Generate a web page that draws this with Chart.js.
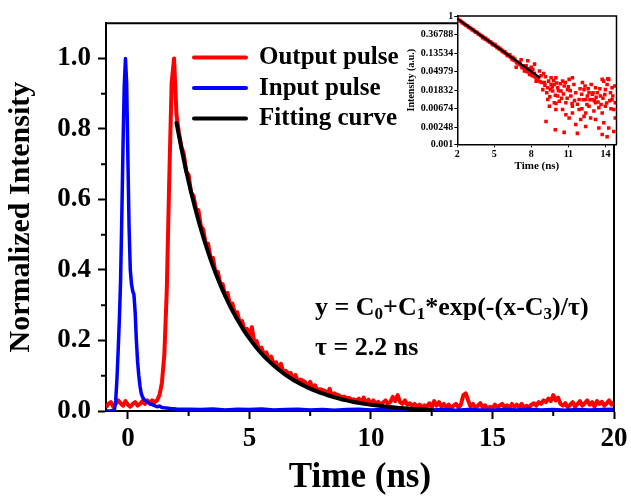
<!DOCTYPE html>
<html><head><meta charset="utf-8">
<script src="https://cdn.jsdelivr.net/npm/chart.js@4.4.1/dist/chart.umd.min.js"></script>
<style>
html,body{margin:0;padding:0;background:#fff;}
#wrap{position:relative;width:631px;height:497px;overflow:hidden;}
#main{position:absolute;left:0;top:0;}
#inset{position:absolute;left:400px;top:6px;}
</style></head><body>
<div id="wrap"><canvas id="main" width="631" height="497"></canvas><canvas id="inset" width="226" height="172"></canvas></div>
<script>
// ---------------- DATA ----------------
const xTicks = [0, 5, 10, 15, 20];
const xMinorTicks = [2.5, 7.5, 12.5, 17.5];
const yTicks = [0, 0.2, 0.4, 0.6, 0.8, 1.0];
const yMinorTicks = [0.1, 0.3, 0.5, 0.7, 0.9];

const outputTime = [
-0.9,-0.8,-0.7,-0.6,-0.5,-0.4,-0.3,-0.2,-0.1,0.0,
0.1,0.2,0.3,0.4,0.5,0.6,0.7,0.8,0.9,1.0,
1.1,1.2,1.3,1.4,1.5,1.6,1.7,1.8,1.9,2.0,
2.1,2.2,2.3,2.4,2.5,2.6,2.7,2.8,2.9,3.0,
3.1,3.2,3.3,3.4,3.5,3.6,3.7,3.8,3.9,4.0,
4.1,4.2,4.3,4.4,4.5,4.6,4.7,4.8,4.9,5.0,
5.1,5.2,5.3,5.4,5.5,5.6,5.7,5.8,5.9,6.0,
6.1,6.2,6.3,6.4,6.5,6.6,6.7,6.8,6.9,7.0,
7.1,7.2,7.3,7.4,7.5,7.6,7.7,7.8,7.9,8.0,
8.1,8.2,8.3,8.4,8.5,8.6,8.7,8.8,8.9,9.0,
9.1,9.2,9.3,9.4,9.5,9.6,9.7,9.8,9.9,10.0,
10.1,10.2,10.3,10.4,10.5,10.6,10.7,10.8,10.9,11.0,
11.1,11.2,11.3,11.4,11.5,11.6,11.7,11.8,11.9,12.0,
12.1,12.2,12.3,12.4,12.5,12.6,12.7,12.8,12.9,13.0,
13.1,13.2,13.3,13.4,13.5,13.6,13.7,13.8,13.9,14.0,
14.1,14.2,14.3,14.4,14.5,14.6,14.7,14.8,14.9,15.0,
15.1,15.2,15.3,15.4,15.5,15.6,15.7,15.8,15.9,16.0,
16.1,16.2,16.3,16.4,16.5,16.6,16.7,16.8,16.9,17.0,
17.1,17.2,17.3,17.4,17.5,17.6,17.7,17.8,17.9,18.0,
18.1,18.2,18.3,18.4,18.5,18.6,18.7,18.8,18.9,19.0,
19.1,19.2,19.3,19.4,19.5,19.6,19.7,19.8,19.9,20.0];
const outputPulse = [
0.010,0.020,0.025,0.012,0.020,0.030,0.022,0.015,0.028,0.018,
0.012,0.020,0.025,0.015,0.020,0.028,0.020,0.030,0.022,0.030,
0.025,0.030,0.045,0.080,0.160,0.340,0.650,0.930,1.000,0.840,
0.790,0.750,0.730,0.680,0.670,0.620,0.610,0.575,0.570,0.525,
0.515,0.475,0.475,0.435,0.435,0.395,0.395,0.362,0.360,0.328,
0.335,0.302,0.305,0.278,0.280,0.252,0.255,0.228,0.233,0.208,
0.238,0.195,0.198,0.174,0.180,0.158,0.166,0.144,0.154,0.132,
0.138,0.118,0.134,0.108,0.114,0.106,0.108,0.088,0.102,0.081,
0.089,0.086,0.081,0.067,0.083,0.062,0.073,0.057,0.062,0.060,
0.057,0.046,0.063,0.042,0.050,0.046,0.044,0.038,0.041,0.036,
0.037,0.032,0.033,0.029,0.035,0.024,0.038,0.021,0.032,0.020,
0.030,0.020,0.026,0.018,0.024,0.030,0.020,0.026,0.040,0.028,
0.045,0.025,0.020,0.030,0.018,0.022,0.015,0.020,0.012,0.018,
0.010,0.016,0.012,0.022,0.010,0.028,0.015,0.025,0.012,0.020,
0.010,0.018,0.008,0.015,0.020,0.010,0.018,0.045,0.050,0.030,
0.012,0.020,0.008,0.015,0.022,0.010,0.016,0.006,0.012,0.008,
0.018,0.010,0.015,0.020,0.010,0.016,0.008,0.020,0.012,0.018,
0.010,0.020,0.008,0.015,0.010,0.018,0.022,0.015,0.025,0.020,
0.030,0.025,0.035,0.028,0.045,0.030,0.038,0.020,0.015,0.022,
0.010,0.018,0.025,0.012,0.020,0.028,0.015,0.022,0.030,0.018,
0.025,0.012,0.028,0.020,0.026,0.015,0.022,0.030,0.018,0.025];

const inputTime = [
-0.9,-0.8,-0.7,-0.6,-0.55,-0.5,-0.45,-0.4,-0.35,-0.3,-0.25,-0.2,-0.15,-0.1,-0.05,0.0,
0.05,0.1,0.15,0.2,0.25,0.3,0.35,0.4,0.45,0.5,0.55,0.6,0.7,0.8,0.9,1.0,
1.1,1.2,1.3,1.4,1.5,1.75,2.0,
2.5,3.0,3.5,4.0,4.5,5.0,5.5,6.0,6.5,7.0,7.5,8.0,8.5,9.0,9.5,10.0,10.5,11.0,
11.5,12.0,12.5,13.0,13.5,14.0,14.5,15.0,15.5,16.0,16.5,17.0,17.5,18.0,18.5,19.0,19.5,20.0];
const inputPulse = [
0.0,0.0,0.0,0.002,0.005,0.03,0.09,0.17,0.26,0.37,0.55,0.75,0.92,1.0,0.93,0.72,
0.52,0.40,0.36,0.34,0.33,0.28,0.20,0.14,0.10,0.07,0.05,0.04,0.03,0.025,0.02,0.018,
0.015,0.012,0.014,0.010,0.009,0.007,0.006,
0.005,0.004,0.006,0.003,0.005,0.004,0.006,0.003,0.004,0.005,0.003,0.004,0.002,0.004,0.005,0.003,0.004,0.002,
0.003,0.005,0.003,0.004,0.002,0.004,0.003,0.002,0.004,0.003,0.005,0.003,0.004,0.002,0.004,0.003,0.004,0.005];

const fitTime = [2.0,2.25,2.5,2.75,3.0,3.25,3.5,3.75,4.0,4.25,4.5,4.75,5.0,5.25,5.5,5.75,6.0,6.25,6.5,6.75,
7.0,7.25,7.5,7.75,8.0,8.25,8.5,8.75,9.0,9.25,9.5,9.75,10.0,10.25,10.5,10.75,11.0,11.25,11.5,11.75,12.0,12.25,12.5];
const fitCurve = [0.817,0.729,0.650,0.580,0.517,0.461,0.411,0.367,0.327,0.291,0.260,0.231,0.206,0.183,0.163,0.145,0.129,0.115,0.102,0.0908,
0.0806,0.0715,0.0634,0.0562,0.0497,0.0439,0.0388,0.0342,0.0301,0.0264,0.0232,0.0202,0.0176,0.0153,0.0132,0.0114,0.0097,0.0083,0.0069,0.0058,0.0047,0.0038,0.0029];

// inset (log scale) data
const insetXTicks = [2, 5, 8, 11, 14];
const insetYTicks = [0.001, 0.00248, 0.00674, 0.01832, 0.04979, 0.13534, 0.36788, 1];
const insetYTickLabels = ['0.001', '0.00248', '0.00674', '0.01832', '0.04979', '0.13534', '0.36788', '1'];
const insetTime = [
2.0,2.1,2.2,2.3,2.4,2.5,2.6,2.7,2.8,2.9,
3.0,3.1,3.2,3.3,3.4,3.5,3.6,3.7,3.8,3.9,
4.0,4.1,4.2,4.3,4.4,4.5,4.6,4.7,4.8,4.9,
5.0,5.1,5.2,5.3,5.4,5.5,5.6,5.7,5.8,5.9,
6.0,6.1,6.2,6.3,6.4,6.5,6.6,6.7,6.8,6.9,
7.0,7.1,7.2,7.3,7.4,7.5,7.6,7.7,7.8,7.9,
8.0,8.1,8.2,8.3,8.4,8.5,
4.05,4.25,4.45,4.65,4.85,5.05,5.25,5.45,5.65,5.85,6.05,6.25,6.45,6.65,6.85,7.05,7.25,7.45,7.65,7.85,8.05,8.25,8.45,
6.5,7.04,7.44,7.71,6.77,7.17,8.12,8.26,8.52,7.85,
9.19,9.94,10.66,11.73,10.8,11.33,9.86,10.13,9.33,9.6,8.93,8.39,7.99,7.58,8.12,9.99,10.53,11.06,11.33,12.14,
12.27,12.67,13.2,13.74,13.87,14.27,14.14,14.54,14.54,14.8,14.0,13.47,13.07,12.67,12.27,12.0,12.4,12.8,13.47,13.74,
14.14,14.68,14.8,13.87,14.27,13.2,13.6,12.94,12.54,11.87,11.6,11.2,10.93,10.66,10.4,10.26,10.8,11.33,11.87,9.73,
9.33,9.06,8.79,8.66,9.6,9.86,10.13,11.73,12.08,12.4,12.94,13.34,14.0,14.41,14.68,13.74,13.2,12.4,11.6,11.06,
10.53,9.99,9.46,
9.1,9.25,9.4,9.5,9.7,9.8,9.95,10.05,10.2,10.35,10.45,10.6,10.75,10.9,11.0,11.15,11.45,11.5,11.95,12.2,
12.35,12.5,12.6,12.75,12.85,13.0,13.1,13.25,13.4,13.55,13.65,13.8,13.95,14.1,14.2,14.35,14.45,14.6,14.75,8.85,
9.0,8.6,8.7,9.15,9.55,10.0,11.3,12.1];
const insetIntensity = [
0.86,0.80,0.78,0.74,0.70,0.68,0.64,0.61,0.59,0.55,
0.53,0.51,0.48,0.47,0.44,0.42,0.41,0.38,0.37,0.35,
0.34,0.32,0.30,0.30,0.28,0.27,0.25,0.245,0.23,0.22,
0.21,0.20,0.19,0.185,0.17,0.165,0.16,0.15,0.14,0.135,
0.13,0.12,0.118,0.11,0.105,0.098,0.094,0.09,0.084,0.082,
0.077,0.074,0.068,0.066,0.062,0.06,0.056,0.053,0.05,0.048,
0.046,0.043,0.04,0.038,0.036,0.034,
0.31,0.29,0.265,0.25,0.215,0.215,0.18,0.175,0.148,0.145,0.12,0.124,0.096,0.098,0.08,0.082,0.062,0.068,0.05,0.058,0.041,0.046,0.031,
0.108,0.075,0.052,0.09,0.063,0.095,0.04,0.075,0.033,0.043,
0.0034,0.0022,0.0019,0.0018,0.0049,0.0054,0.0094,0.0135,0.0112,0.025,0.019,0.030,0.063,0.069,0.057,0.036,0.030,0.033,0.036,0.028,
0.019,0.016,0.021,0.033,0.030,0.033,0.025,0.021,0.011,0.0094,0.0078,0.0072,0.006,0.0078,0.0045,0.0038,0.0054,0.0041,0.0024,0.0017,
0.0015,0.002,0.0041,0.0032,0.0024,0.0094,0.0135,0.0112,0.0135,0.0112,0.016,0.0135,0.019,0.023,0.0176,0.0102,0.0094,0.0078,0.0065,0.0176,
0.021,0.028,0.040,0.052,0.036,0.025,0.021,0.0086,0.0148,0.0112,0.0148,0.016,0.019,0.016,0.0065,0.0054,0.0038,0.0026,0.0029,0.0041,
0.0065,0.0065,0.0078,
0.024,0.016,0.03,0.013,0.022,0.031,0.014,0.027,0.018,0.026,0.012,0.015,0.028,0.012,0.022,0.018,0.025,0.0105,0.02,0.011,
0.023,0.0085,0.02,0.011,0.025,0.016,0.0105,0.0125,0.0098,0.02,0.0085,0.012,0.0145,0.0092,0.034,0.0105,0.0068,0.0135,0.023,0.028,
0.045,0.036,0.029,0.038,0.019,0.009,0.009,0.0068];
const insetFitTime = [2.0, 8.7];
const insetFitValue = [0.87, 0.036];

const seriesLabels = ['Output pulse', 'Input pulse', 'Fitting curve'];
const xTitle = 'Time (ns)';
const yTitle = 'Normalized Intensity';
const insetXTitle = 'Time (ns)';
const insetYTitle = 'Intensity (a.u.)';
const eqParts = [['y = C', false], ['0', true], ['+C', false], ['1', true], ['*exp(-(x-C', false], ['3', true], [')/\u03C4)', false]];
const tauText = '\u03C4 = 2.2 ns';

// ---------------- CHART ----------------
const SERIF = '"Liberation Serif", "Times New Roman", serif';
const pts = (xs, ys) => xs.map((x, i) => ({x: x, y: ys[i]}));

const framePlugin = {
  id: 'frame',
  afterDraw(chart) {
    const {ctx, chartArea: a} = chart;
    const lw = chart.options.frameWidth || 2;
    ctx.save();
    ctx.strokeStyle = '#000'; ctx.lineWidth = lw;
    ctx.beginPath();
    ctx.moveTo(a.left, a.top); ctx.lineTo(a.right, a.top); ctx.lineTo(a.right, a.bottom);
    ctx.stroke();
    ctx.restore();
  }
};
const minorPlugin = {
  id: 'minor',
  afterDraw(chart) {
    const {ctx, chartArea: a, scales} = chart;
    ctx.save(); ctx.strokeStyle = '#000'; ctx.lineWidth = 2;
    ctx.beginPath();
    xMinorTicks.forEach(v => { const p = scales.x.getPixelForValue(v); ctx.moveTo(p, a.bottom); ctx.lineTo(p, a.bottom + 5); });
    yMinorTicks.forEach(v => { const p = scales.y.getPixelForValue(v); ctx.moveTo(a.left - 5, p); ctx.lineTo(a.left, p); });
    ctx.stroke(); ctx.restore();
  }
};
const legendPlugin = {
  id: 'inlegend',
  afterDraw(chart) {
    const ctx = chart.ctx;
    ctx.save();
    chart.data.datasets.forEach((ds, i) => {
      const y = 57.5 + i * 30.5;
      ctx.strokeStyle = ds.borderColor; ctx.lineWidth = 4; ctx.lineCap = 'round';
      ctx.beginPath(); ctx.moveTo(194, y); ctx.lineTo(246, y); ctx.stroke();
      ctx.fillStyle = '#000'; ctx.font = 'bold 25px ' + SERIF; ctx.textBaseline = 'middle'; ctx.textAlign = 'left';
      ctx.fillText(ds.label, 259, y + 0.5);
    });
    ctx.restore();
  }
};
const eqPlugin = {
  id: 'equation',
  afterDraw(chart) {
    const ctx = chart.ctx;
    ctx.save(); ctx.fillStyle = '#000'; ctx.textBaseline = 'alphabetic'; ctx.textAlign = 'left';
    let x = 315; const base = 315;
    eqParts.forEach(([t, sub]) => {
      ctx.font = sub ? 'bold 17px ' + SERIF : 'bold 26px ' + SERIF;
      ctx.fillText(t, x, sub ? base + 4 : base);
      x += ctx.measureText(t).width;
    });
    ctx.font = 'bold 26px ' + SERIF;
    ctx.fillText(tauText, 315, 355);
    ctx.restore();
  }
};

const tickFont = {family: SERIF, size: 27, weight: 'bold'};

new Chart(document.getElementById('main'), {
  type: 'line',
  data: {
    datasets: [
      {label: seriesLabels[0], data: pts(outputTime, outputPulse), borderColor: '#ff0000', borderWidth: 4, pointRadius: 0, order: 2, borderJoinStyle: 'round'},
      {label: seriesLabels[1], data: pts(inputTime, inputPulse), borderColor: '#0000ff', borderWidth: 3.5, pointRadius: 0, order: 1, borderJoinStyle: 'round'},
      {label: seriesLabels[2], data: pts(fitTime, fitCurve), borderColor: '#000000', borderWidth: 4, pointRadius: 0, order: 0, cubicInterpolationMode: 'monotone', borderCapStyle: 'round'}
    ]
  },
  options: {
    responsive: false, animation: false, devicePixelRatio: 1,
    layout: {padding: {top: 11.4, right: 13.5, left: 0, bottom: 0}},
    plugins: {legend: {display: false}, tooltip: {enabled: false}},
    scales: {
      x: {
        type: 'linear', min: -0.9, max: 20,
        afterBuildTicks: s => { s.ticks = xTicks.map(v => ({value: v})); },
        afterFit: s => { s.height = 86; },
        ticks: {font: tickFont, color: '#000', padding: 3.5, maxRotation: 0, autoSkip: false, callback: v => String(v)},
        grid: {drawOnChartArea: false, tickLength: 8, tickWidth: 2, tickColor: '#000'},
        border: {color: '#000', width: 2},
        title: {display: true, text: xTitle, color: '#000', font: {family: SERIF, size: 35, weight: 'bold', lineHeight: 1}, padding: {top: 0, bottom: 1.3}}
      },
      y: {
        type: 'linear', min: 0, max: 1.1,
        afterBuildTicks: s => { s.ticks = yTicks.map(v => ({value: v})); },
        afterFit: s => { s.width = 106; },
        ticks: {font: tickFont, color: '#000', padding: 7, autoSkip: false, callback: v => v.toFixed(1)},
        grid: {drawOnChartArea: false, tickLength: 8, tickWidth: 2, tickColor: '#000'},
        border: {color: '#000', width: 2},
        title: {display: true, text: yTitle, color: '#000', font: {family: SERIF, size: 30, weight: 'bold', lineHeight: 1}, padding: {top: 6.6, bottom: 0}}
      }
    }
  },
  plugins: [framePlugin, minorPlugin, legendPlugin, eqPlugin]
});

const insetBg = {
  id: 'insetBg',
  beforeDraw(chart) {
    const {ctx, chartArea: a} = chart;
    ctx.save(); ctx.fillStyle = '#fff'; ctx.fillRect(a.left, a.top, a.right - a.left, a.bottom - a.top); ctx.restore();
  }
};
const insetFont = {family: SERIF, size: 10, weight: 'bold'};
new Chart(document.getElementById('inset'), {
  type: 'scatter',
  data: {
    datasets: [
      {type: 'line', label: 'fit', data: pts(insetFitTime, insetFitValue), borderColor: '#000', borderWidth: 2.2, pointRadius: 0, order: 0},
      {label: 'data', data: pts(insetTime, insetIntensity), backgroundColor: '#ff0000', borderWidth: 0, pointRadius: 2.5, pointStyle: 'rect', order: 1}
    ]
  },
  options: {
    responsive: false, animation: false, devicePixelRatio: 1, frameWidth: 1.5,
    layout: {padding: {top: 10, right: 9.5, left: 0, bottom: 0}},
    plugins: {legend: {display: false}, tooltip: {enabled: false}},
    scales: {
      x: {
        type: 'linear', min: 2, max: 14.9,
        afterBuildTicks: s => { s.ticks = insetXTicks.map(v => ({value: v})); },
        afterFit: s => { s.height = 33.7; },
        ticks: {font: insetFont, color: '#000', padding: 1, maxRotation: 0, autoSkip: false, callback: v => String(v)},
        grid: {drawOnChartArea: false, tickLength: 3, tickWidth: 1, tickColor: '#000'},
        border: {color: '#000', width: 1.5},
        title: {display: true, text: insetXTitle, color: '#000', font: {family: SERIF, size: 11, weight: 'bold', lineHeight: 1}, padding: {top: 0, bottom: 6.8}}
      },
      y: {
        type: 'logarithmic', min: 0.001, max: 1,
        afterBuildTicks: s => { s.ticks = insetYTicks.map(v => ({value: v})); },
        afterFit: s => { s.width = 57.3; },
        ticks: {font: insetFont, color: '#000', padding: 1, autoSkip: false, callback: (v, i) => insetYTickLabels[i]},
        grid: {drawOnChartArea: false, tickLength: 3, tickWidth: 1, tickColor: '#000'},
        border: {color: '#000', width: 1.5},
        title: {display: true, text: insetYTitle, color: '#000', font: {family: SERIF, size: 10, weight: 'bold', lineHeight: 1}, padding: {top: 6.6, bottom: 0}}
      }
    }
  },
  plugins: [insetBg, framePlugin]
});
</script>
</body></html>
